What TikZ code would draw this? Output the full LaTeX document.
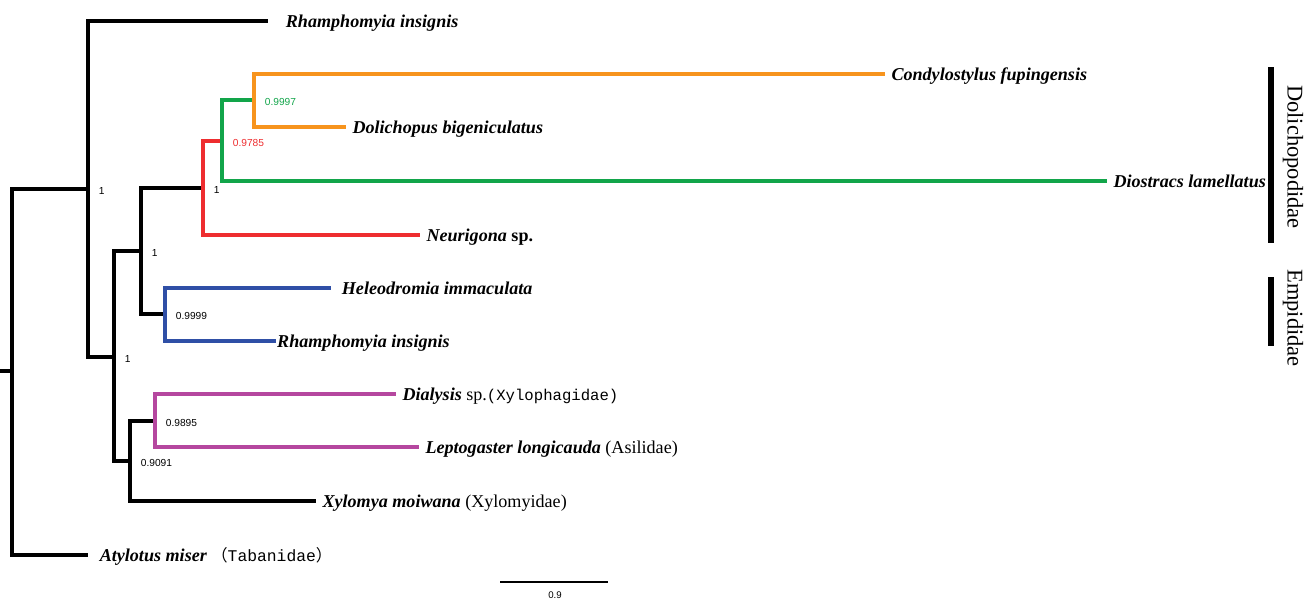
\documentclass[tikz,border=0pt]{standalone}
\usepackage{fontspec}
\setmainfont{Liberation Serif}
\setmonofont{Liberation Mono}
\newfontfamily\suppfont{Liberation Sans}
\newfontfamily\cjk{Noto Sans CJK SC}
\usepackage{xcolor}
\usetikzlibrary{positioning}
\definecolor{brOrange}{HTML}{F7941D}
\definecolor{brGreen}{HTML}{12A54A}
\definecolor{brRed}{HTML}{EE2D2F}
\definecolor{brBlue}{HTML}{2F4FA6}
\definecolor{brPink}{HTML}{B5479F}
\tikzset{
  br/.style={line width=1.9pt, line join=miter},
  taxon/.style={anchor=base west, inner sep=0pt, xshift=3.5pt, yshift=-3.7pt,
      font=\fontsize{10.3}{12}\selectfont\bfseries\itshape},
  supp/.style={anchor=base west, inner sep=0pt, xshift=6pt, yshift=-2.85pt,
      font=\suppfont\fontsize{5.8}{7}\selectfont},
  clade/.style={rotate=-90, inner sep=0pt, font=\fontsize{12.8}{14}\selectfont}
}

\begin{document}
\begin{tikzpicture}[x=0.02cm, y=-0.02cm]
      \useasboundingbox (0,0) rectangle (1307,599);

      % internal nodes
      \coordinate (stub) at (0,371);
      \coordinate (root) at (12,371);
      \coordinate (A) at (88,189);
      \coordinate (B) at (114,357);
      \coordinate (C) at (141,251);
      \coordinate (D) at (203,188);
      \coordinate (E) at (222,141);
      \coordinate (O) at (254,100);
      \coordinate (G) at (165,314);
      \coordinate (F) at (130,461);
      \coordinate (M) at (155,421);

      % tips
      \coordinate (rin1) at (268,21);
      \coordinate (con) at (885,74);
      \coordinate (dol) at (346,127);
      \coordinate (dio) at (1107,181);
      \coordinate (neu) at (420,235);
      \coordinate (hel) at (331,288);
      \coordinate (rin2) at (276,341);
      \coordinate (dia) at (396,394);
      \coordinate (lep) at (419,447);
      \coordinate (xyl) at (316,501);
      \coordinate (aty) at (88,555);

      % branches
      \draw[br] (stub) -- (root);
      \draw[br] (root) |- (A);
      \draw[br] (root) |- (aty);
      \draw[br] (A) |- (rin1);
      \draw[br] (A) |- (B);
      \draw[br] (B) |- (C);
      \draw[br] (B) |- (F);
      \draw[br] (C) |- (D);
      \draw[br] (C) |- (G);
      \draw[br, brRed] (D) |- (E);
      \draw[br, brRed] (D) |- (neu);
      \draw[br, brGreen] (E) |- (O);
      \draw[br, brGreen] (E) |- (dio);
      \draw[br, brOrange] (O) |- (con);
      \draw[br, brOrange] (O) |- (dol);
      \draw[br, brBlue] (G) |- (hel);
      \draw[br, brBlue] (G) |- (rin2);
      \draw[br] (F) |- (M);
      \draw[br] (F) |- (xyl);
      \draw[br, brPink] (M) |- (dia);
      \draw[br, brPink] (M) |- (lep);

      % support values
      \node[supp] (sA) at (A) {1};
      \node[supp] (sB) at (B) {1};
      \node[supp] (sC) at (C) {1};
      \node[supp] (sD) at (D) {1};
      \node[supp, brRed] (sE) at (E) {0.9785};
      \node[supp, brGreen] (sO) at (O) {0.9997};
      \node[supp] (sG) at (G) {0.9999};
      \node[supp] (sM) at (M) {0.9895};
      \node[supp] (sF) at (F) {0.9091};

      % taxa
      \node[taxon, xshift=6.5pt] (lrin1) at (rin1) {Rhamphomyia insignis};
      \node[taxon] (lcon) at (con) {Condylostylus fupingensis};
      \node[taxon] (ldol) at (dol) {Dolichopus bigeniculatus};
      \node[taxon] (ldio) at (dio) {Diostracs lamellatus};
      \node[taxon] (lneu) at (neu) {Neurigona \upshape sp.};
      \node[taxon, xshift=2.5pt] (lhel) at (hel) {Heleodromia immaculata};
      \node[taxon, xshift=-3pt] (lrin2) at (rin2) {Rhamphomyia insignis};
      \node[taxon] (ldia) at (dia) {Dialysis \upshape\mdseries sp.{\ttfamily\fontsize{8.9}{10}\selectfont(Xylophagidae)}};
      \node[taxon] (llep) at (lep) {Leptogaster longicauda \upshape\mdseries (Asilidae)};
      \node[taxon] (lxyl) at (xyl) {Xylomya moiwana \upshape\mdseries (Xylomyidae)};
      \node[taxon, xshift=3pt] (laty) at (aty) {Atylotus miser \upshape\mdseries{\ttfamily\fontsize{9.3}{10}\selectfont{\cjk （}Tabanidae{\cjk ）}}};

      % families
      \draw[line width=3.2pt] (1271,67) coordinate (dtop) -- (1271,243) coordinate (dbot);
      \draw[line width=3.4pt] (1271,277) coordinate (etop) -- (1271,346) coordinate (ebot);
      \node[clade] (dolfam) at (1293,157) {Dolichopodidae};
      \node[clade] (empfam) at (1293,318) {Empididae};

      % scale bar
      \coordinate (sbl) at (500,582);
      \coordinate (sbr) at (608,582);
      \draw[line width=0.7pt] (sbl) -- (sbr);
      \node[font=\suppfont\fontsize{5.5}{6}\selectfont, inner sep=0pt] (sblab) at (555,595) {0.9};
\end{tikzpicture}
\end{document}
